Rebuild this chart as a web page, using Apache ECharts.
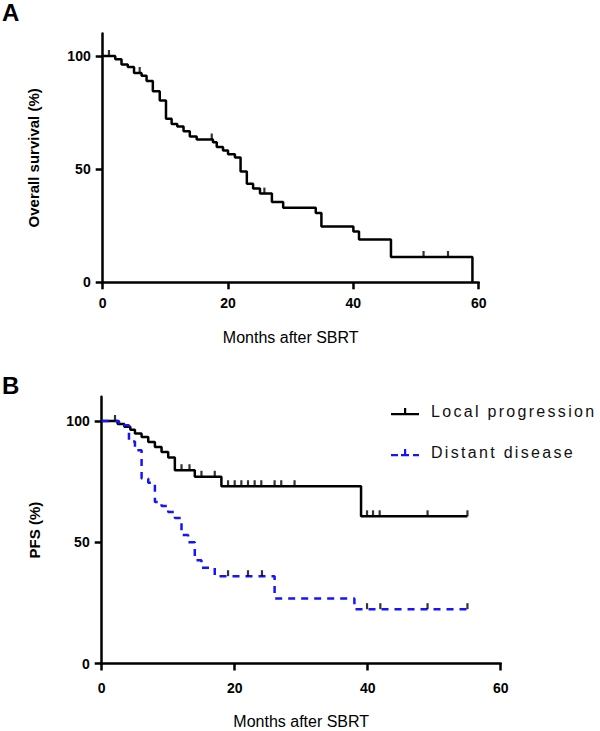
<!DOCTYPE html>
<html><head><meta charset="utf-8">
<script src="https://cdn.jsdelivr.net/npm/echarts@6/dist/echarts.min.js"></script>
<style>html,body{margin:0;padding:0;background:#fff}#main{width:600px;height:731px}</style>
</head><body><div id="main"></div>
<script>
// ---- Panel A: overall survival (Kaplan-Meier) ----
const osTime = [0, 2, 3, 4, 5, 6.2, 7, 8, 9.1, 10.1, 11, 11.9, 12.9, 13.9, 15, 17.6, 18.2, 19.2, 20, 21.1, 22, 23, 24, 25.1, 27, 28.8, 34, 34.9, 40, 40.9, 46, 59];
const osSurv = [100, 98.6, 96.3, 95.1, 92.5, 91.3, 89.0, 84.4, 80.4, 72.3, 70.0, 68.8, 66.8, 64.4, 63.1, 61.9, 59.8, 58.3, 56.6, 55.1, 49.0, 43.6, 41.4, 39.2, 35.5, 33.0, 30.6, 24.7, 22.5, 18.9, 11.2, 0];
const osCensor = [1.0, 5.9, 17.4, 25.8, 51.2, 55.1];

// ---- Panel B: PFS ----
const lpTime = [0, 2.4, 3.4, 4.3, 5.0, 6.0, 7.0, 8.0, 9.0, 10.0, 11.0, 14.0, 18.0, 39.0, 55];
const lpSurv = [100, 98.8, 97.6, 96.4, 94.8, 93.4, 91.3, 89.3, 87.2, 84.9, 79.7, 77.0, 73.1, 60.7, 60.7];
const lpCensor = [2.0, 12.0, 13.2, 15.0, 17.0, 19.0, 20.0, 21.0, 22.0, 23.0, 24.0, 26.0, 27.0, 29.0, 39.9, 40.8, 41.8, 49.0, 55.0];

const dsTime = [0, 2.6, 4.1, 5.0, 6.0, 7.0, 8.0, 9.0, 10.0, 11.0, 12.0, 13.0, 14.0, 15.0, 17.0, 26.0, 38.0, 55];
const dsSurv = [100, 98.2, 91.5, 87.9, 76.3, 74.5, 66.6, 65.0, 62.5, 60.0, 53.0, 50.0, 42.6, 39.5, 36.0, 26.8, 22.4, 22.4];
const dsCensor = [19.0, 22.0, 24.1, 39.9, 41.9, 49.0, 55.0];

const xTicks = [0, 20, 40, 60];
const yTicks = [0, 50, 100];
const seriesNames = ['Local progression', 'Distant disease'];

const FONT = '"Liberation Sans", Arial, Helvetica, sans-serif';
const BLUE = '#1414ff';

function pairs(t, s) { return t.map((x, i) => [x, s[i]]); }
function levelAt(t, s, x) { let v = s[0]; for (let i = 0; i < t.length; i++) { if (t[i] <= x) v = s[i]; } return v; }
function censorPts(t, s, c) { return c.map(x => [x, levelAt(t, s, x)]); }

function xAxisCfg(gi, labelMargin, nameGap) {
  return {
    type: 'value', gridIndex: gi, min: 0, max: 60, interval: 20,
    axisLine: { show: true, onZero: false, lineStyle: { color: '#000', width: 2.5 } },
    axisTick: { show: true, length: 7, lineStyle: { color: '#000', width: 2.5 }, customValues: xTicks },
    axisLabel: { margin: labelMargin, color: '#000', fontFamily: FONT, fontWeight: 'bold', fontSize: 14, customValues: xTicks },
    splitLine: { show: false },
    name: 'Months after SBRT', nameLocation: 'middle', nameGap: nameGap,
    nameTextStyle: { fontFamily: FONT, fontSize: 16, color: '#000' }
  };
}
function yAxisCfg(gi, name, nameGap) {
  return {
    type: 'value', gridIndex: gi, min: 0, max: 110,
    axisLine: { show: true, onZero: false, lineStyle: { color: '#000', width: 2.5 } },
    axisTick: { show: true, length: 7, lineStyle: { color: '#000', width: 2.5 }, customValues: yTicks },
    axisLabel: { margin: 12, color: '#000', fontFamily: FONT, fontWeight: 'bold', fontSize: 14, customValues: yTicks,
      formatter: v => (yTicks.indexOf(v) >= 0 ? String(v) : '') },
    splitLine: { show: false },
    name: name, nameLocation: 'middle', nameRotate: 90, nameGap: nameGap,
    nameTextStyle: { fontFamily: FONT, fontSize: 15, fontWeight: 'bold', color: '#000' }
  };
}
function censorSeries(name, xi, data) {
  return {
    name: name, type: 'scatter', xAxisIndex: xi, yAxisIndex: xi, data: data,
    symbol: 'rect', symbolSize: [2.2, 6], symbolOffset: [0, -3],
    itemStyle: { color: '#000' }, silent: true, z: 5
  };
}

const chart = echarts.init(document.getElementById('main'), null, { renderer: 'svg' });
chart.setOption({
  animation: false,
  backgroundColor: '#fff',
  grid: [
    { left: 102.7, top: 33.4, width: 376, height: 248.9, outerBoundsMode: 'none' },
    { left: 101.7, top: 396.75, width: 399, height: 266.75, outerBoundsMode: 'none' }
  ],
  xAxis: [xAxisCfg(0, 14, 47), xAxisCfg(1, 17, 50)],
  yAxis: [yAxisCfg(0, 'Overall survival (%)', 62), yAxisCfg(1, 'PFS (%)', 60)],
  legend: {
    orient: 'vertical', left: 386, top: 398.7, itemWidth: 28, itemHeight: 14, itemGap: 25,
    selectedMode: false, symbolKeepAspect: true,
    textStyle: { fontFamily: FONT, fontSize: 16, color: '#111', lineHeight: 14, padding: [0, 0, 0, 7] },
    itemStyle: { borderWidth: 0 },
    data: [
      { name: seriesNames[0], icon: 'path://M0,5h28v2.3h-28z M13,0h2.2v5h-2.2z' },
      { name: seriesNames[1], icon: 'path://M0,5h7v2.3h-7z M10,5h8v2.3h-8z M13,0h2.2v5h-2.2z M22,5h6v2.3h-6z' }
    ]
  },
  graphic: [
    { type: 'text', left: 2, top: 0.5, style: { text: 'A', font: 'bold 24px ' + FONT, fill: '#000' } },
    { type: 'text', left: 2, top: 373.5, style: { text: 'B', font: 'bold 24px ' + FONT, fill: '#000' } }
  ],
  series: [
    { name: 'Overall survival', type: 'line', step: 'end', xAxisIndex: 0, yAxisIndex: 0,
      data: pairs(osTime, osSurv), symbol: 'none', silent: true,
      lineStyle: { color: '#000', width: 2.5 }, itemStyle: { color: '#000' } },
    censorSeries('OS censored', 0, censorPts(osTime, osSurv, osCensor)),
    { name: seriesNames[0], type: 'line', step: 'end', xAxisIndex: 1, yAxisIndex: 1,
      data: pairs(lpTime, lpSurv), symbol: 'none', silent: true,
      lineStyle: { color: '#000', width: 2.5 }, itemStyle: { color: '#000' } },
    censorSeries('Local progression censored', 1, censorPts(lpTime, lpSurv, lpCensor)),
    { name: seriesNames[1], type: 'line', step: 'end', xAxisIndex: 1, yAxisIndex: 1,
      data: pairs(dsTime, dsSurv), symbol: 'none', silent: true, z: 3,
      lineStyle: { color: BLUE, width: 2.5, type: [7, 6] }, itemStyle: { color: BLUE } },
    censorSeries('Distant disease censored', 1, censorPts(dsTime, dsSurv, dsCensor))
  ]
});

function spaceLegend() {
  document.querySelectorAll('#main text').forEach(el => {
    if (seriesNames.indexOf(el.textContent) >= 0) el.setAttribute('letter-spacing', '2.3');
  });
}
spaceLegend();
chart.on('finished', spaceLegend);
</script>
</body></html>
